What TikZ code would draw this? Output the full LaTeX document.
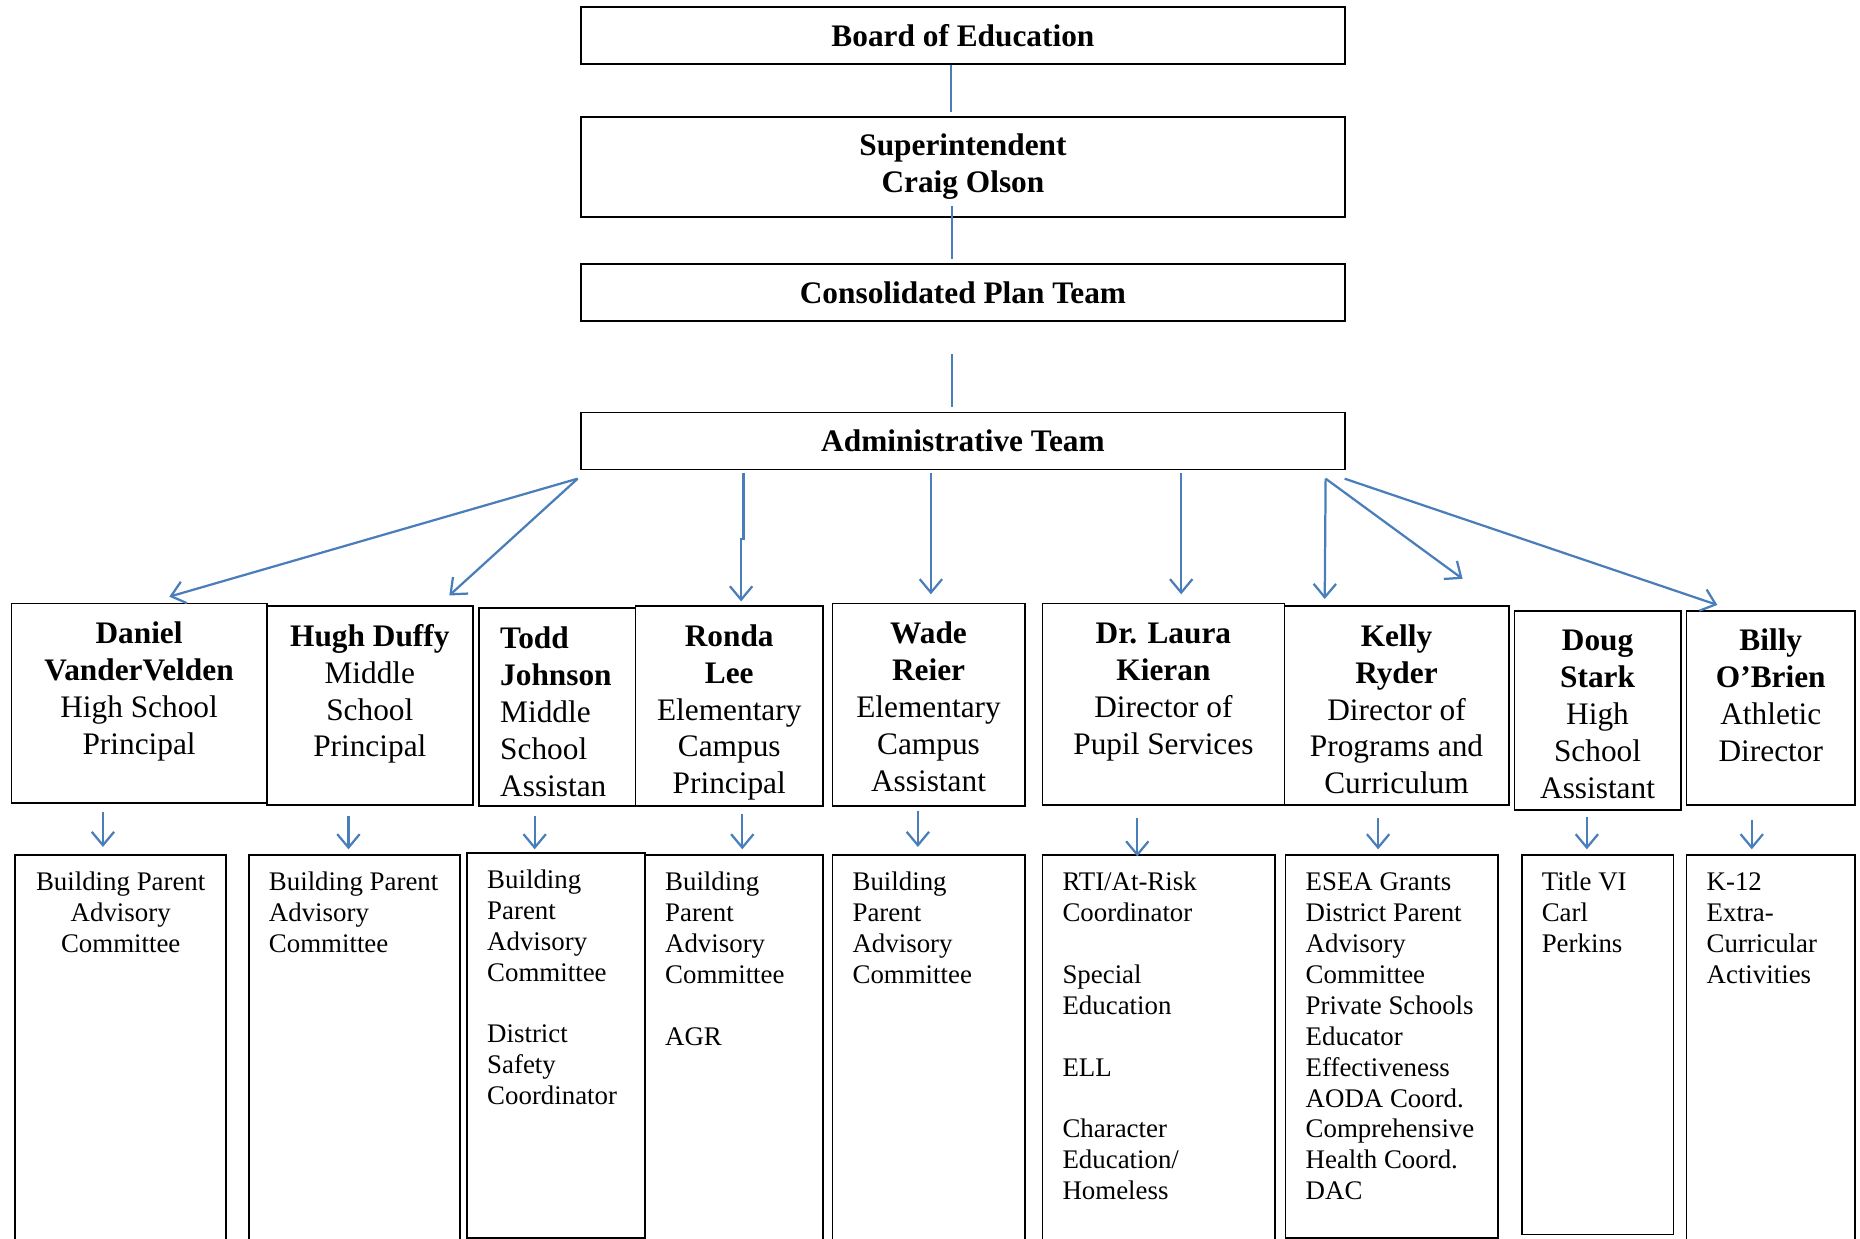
\documentclass[tikz,border=0pt]{standalone}
\usepackage{fontspec}
\setmainfont{Liberation Serif}
\usepackage{tikz}
\usetikzlibrary{arrows.meta,calc}
\definecolor{linkblue}{RGB}{74,126,187}
\newlength{\px}
\setlength{\px}{0.53pt}
\newcommand{\headtext}[3]{\parbox[c][#2\px][c]{#1\px}{\centering\bfseries #3}}
\newcommand{\persontext}[4][\centering]{\parbox[t][#3\px][t]{#2\px}{#1\rule{0pt}{18pt}#4}}
\newcommand{\dutytext}[4][\raggedright\leftskip=9pt]{\parbox[t][#3\px][t]{#2\px}{#1\rule{0pt}{16pt}#4}}
\tikzstyle{head}=[draw,thick,anchor=north west,inner sep=0pt,font=\fontsize{14}{16.5}\selectfont]
\tikzstyle{person}=[draw,thick,anchor=north west,inner sep=0pt,font=\fontsize{14}{16.5}\selectfont]
\tikzstyle{duty}=[draw,thick,anchor=north west,inner sep=0pt,font=\fontsize{12}{13.8}\selectfont]
\tikzstyle{link}=[draw,linkblue,line width=0.8pt]
\tikzstyle{edge}=[draw,linkblue,line width=1pt,-{Straight Barb[length=6pt,width=10pt]}]

\begin{document}
\begin{tikzpicture}[x=0.53pt,y=-0.53pt]
        \useasboundingbox (0,0) rectangle (1568,1044);
        \clip (0,0) rectangle (1568,1044);
        \node[head] (bd) at (489,5) {\headtext{644}{48}{Board of Education}};
        \node[head] (sup) at (489,98) {\headtext{644}{84}{Superintendent\\Craig Olson}};
        \node[head] (cpt) at (489,222) {\headtext{644}{48}{Consolidated Plan Team}};
        \node[head] (adm) at (489,347) {\headtext{644}{48}{Administrative Team}};

        \node[person] (dan) at (9,508) {\persontext{215}{168}{\textbf{Daniel}\\\textbf{VanderVelden}\\High School\\Principal}};
        \node[person] (hugh) at (224,510) {\persontext{174}{168}{\textbf{Hugh Duffy}\\Middle\\School\\Principal}};
        \node[person] (todd) at (403,512) {\persontext[\raggedright\leftskip=9.5pt]{132}{167}{\textbf{Todd}\\\textbf{Johnson}\\Middle\\School\\Assistan}};
        \node[person] (ronda) at (535,510) {\persontext{158}{169}{\textbf{Ronda}\\\textbf{Lee}\\Elementary\\Campus\\Principal}};
        \node[person] (wade) at (701,508) {\persontext{162}{171}{\textbf{Wade}\\\textbf{Reier}\\Elementary\\Campus\\Assistant}};
        \node[person] (laura) at (878,508) {\persontext{204}{170}{\textbf{Dr. Laura}\\\textbf{Kieran}\\Director of\\Pupil Services}};
        \node[person] (kelly) at (1082,510) {\persontext{189}{168}{\textbf{Kelly}\\\textbf{Ryder}\\Director of\\Programs and\\Curriculum}};
        \node[person] (doug) at (1276,514) {\persontext{140}{168}{\textbf{Doug}\\\textbf{Stark}\\High\\School\\Assistant}};
        \node[person] (billy) at (1421,514) {\persontext{142}{164}{\textbf{Billy}\\\textbf{O’Brien}\\Athletic\\Director}};

        \node[duty] (danc) at (12,720) {\dutytext[\centering]{178}{340}{Building Parent\\Advisory\\Committee}};
        \node[duty] (hughc) at (209,720) {\dutytext{178}{340}{Building Parent\\Advisory\\Committee}};
        \node[duty] (toddc) at (393,718) {\dutytext{150}{325}{Building\\Parent\\Advisory\\Committee\\[13.8pt]District\\Safety\\Coordinator}};
        \node[duty] (rondac) at (543,720) {\dutytext{150}{340}{Building\\Parent\\Advisory\\Committee\\[13.8pt]AGR}};
        \node[duty] (wadec) at (701,720) {\dutytext{162}{340}{Building\\Parent\\Advisory\\Committee}};
        \node[duty] (laurac) at (878,720) {\dutytext{196}{340}{RTI/At-Risk\\Coordinator\\[13.8pt]Special\\Education\\[13.8pt]ELL\\[13.8pt]Character\\Education/\\Homeless}};
        \node[duty] (kellyc) at (1083,720) {\dutytext{179}{323}{ESEA Grants\\District Parent\\Advisory\\Committee\\Private Schools\\Educator\\Effectiveness\\AODA Coord.\\Comprehensive\\Health Coord.\\DAC}};
        \node[duty] (dougc) at (1282,720) {\dutytext{128}{320}{Title VI\\Carl\\Perkins}};
        \node[duty] (billyc) at (1421,720) {\dutytext{142}{340}{K-12\\Extra-\\Curricular\\Activities}};

        \draw[link] ($(bd.south)+(-10,0)$) -- ($(sup.north)+(-10,-4)$);
        \draw[link] ($(sup.south)+(-9,-10)$) -- ($(cpt.north)+(-9,-4)$);
        \draw[link] ($(cpt.south)+(-9,27)$) -- ($(adm.north)+(-9,-4)$);

        \draw[edge] ($(adm.south west)+(-2,7)$) -- ($(dan.north)+(25.5,-5)$);
        \draw[edge] ($(adm.south west)+(-2,7)$) -- ($(hugh.north)+(67,-8)$);
        \draw[edge] ($(adm.south)+(-185,2)$) -- ++(0,56) -- ++(-2,0) -- ($(ronda.north)+(10,-3)$);
        \draw[edge] ($(adm.south)+(-27,2)$) -- ($(wade.north)+(2,-7)$);
        \draw[edge] ($(adm.south)+(184,2)$) -- ($(laura.north)+(15,-7)$);
        \draw[edge] ($(adm.south east)+(-17,7)$) -- ($(kelly.north)+(-60.5,-5)$);
        \coordinate (kfree) at (1233,488);
        \draw[edge] ($(adm.south east)+(-17,7)$) -- (kfree);
        \draw[edge] ($(adm.south east)+(-1,7)$) -- ($(billy.north)+(-45,-4)$);

        \draw[edge] ($(dan.south)+(-30.5,7)$) -- ($(danc.north)+(-15,-6)$);
        \draw[edge] ($(hugh.south)+(-18,8)$) -- ($(hughc.north)+(-5,-4)$);
        \draw[edge] ($(todd.south)+(-19,7)$) -- ($(toddc.north)+(-18,-2)$);
        \draw[edge] ($(ronda.south)+(11,6)$) -- ($(rondac.north)+(7,-4)$);
        \draw[edge] ($(wade.south)+(-9,3)$) -- ($(wadec.north)+(-9,-6)$);
        \draw[edge] ($(laura.south)+(-22,10)$) -- ($(laurac.north)+(-18,2)$);
        \draw[edge] ($(kelly.south)+(-15.5,10)$) -- ($(kellyc.north)+(-11.5,-4)$);
        \draw[edge] ($(doug.south)+(-9,5)$) -- ($(dougc.north)+(-9,-4)$);
        \draw[edge] ($(billy.south)+(-16,12)$) -- ($(billyc.north)+(-16,-4)$);
      \end{tikzpicture}
\end{document}
